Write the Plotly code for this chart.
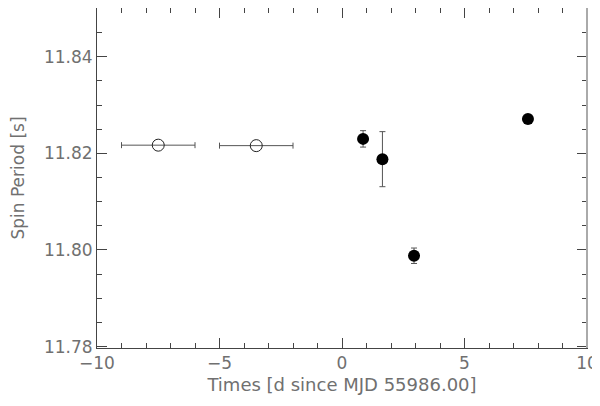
import plotly.graph_objects as go

# open symbols: earlier measurements with time-bin error
open_t = [-7.5, -3.5]
open_t_err = [1.5, 1.5]
open_p = [11.8217, 11.8216]

# filled symbols
fill_t = [0.86, 1.65, 2.94, 7.59]
fill_p = [11.8230, 11.8188, 11.7988, 11.8271]
fill_p_err = [0.0017, 0.0057, 0.0016, 0.0003]

x_ticks = [-10, -5, 0, 5, 10]
y_ticks = [11.78, 11.80, 11.82, 11.84]

grey = "#707070"
font = "DejaVu Sans"

fig = go.Figure()

fig.add_trace(go.Scatter(
    x=open_t, y=open_p, mode="markers",
    marker=dict(symbol="circle-open", size=12, color="#222222", line=dict(width=1)),
    error_x=dict(type="data", array=open_t_err, color="#555555", thickness=1, width=3),
    showlegend=False,
))

fig.add_trace(go.Scatter(
    x=fill_t, y=fill_p, mode="markers",
    marker=dict(symbol="circle", size=12, color="black"),
    error_y=dict(type="data", array=fill_p_err, color="#555555", thickness=1, width=3),
    showlegend=False,
))

axis_common = dict(
    showline=True, linecolor="#444444", linewidth=1, mirror="allticks",
    ticks="inside", ticklen=10, tickcolor="#444444",
    showgrid=False, zeroline=False, automargin=False,
    tickfont=dict(family=font, size=17, color=grey),
)

fig.update_xaxes(
    range=[-10, 10], tickvals=x_ticks,
    ticktext=["\u221210", "\u22125", "0", "5", "10"],
    minor=dict(dtick=1, ticks="inside", ticklen=5, tickcolor="#444444"),
    title=dict(text="Times [d since MJD 55986.00]", font=dict(family=font, size=18, color=grey),
               standoff=5),
    **axis_common,
)
fig.update_yaxes(
    range=[11.7797, 11.8501], tickvals=y_ticks, tickformat=".2f",
    minor=dict(dtick=0.005, tick0=11.78, ticks="inside", ticklen=5, tickcolor="#444444"),
    title=dict(text="Spin Period [s]", font=dict(family=font, size=17, color=grey),
               standoff=28),
    **axis_common,
)

# right frame edge is drawn lighter in the original
fig.add_shape(type="line", xref="paper", yref="paper", x0=1, x1=1, y0=0, y1=1,
              line=dict(color="#aaaaaa", width=2))

# page body adds an 8px offset, margins compensate for it
fig.update_layout(
    width=600, height=406,
    margin=dict(l=89, r=21, t=0, b=66),
    paper_bgcolor="white", plot_bgcolor="white",
)

fig.write_html("out.html")
